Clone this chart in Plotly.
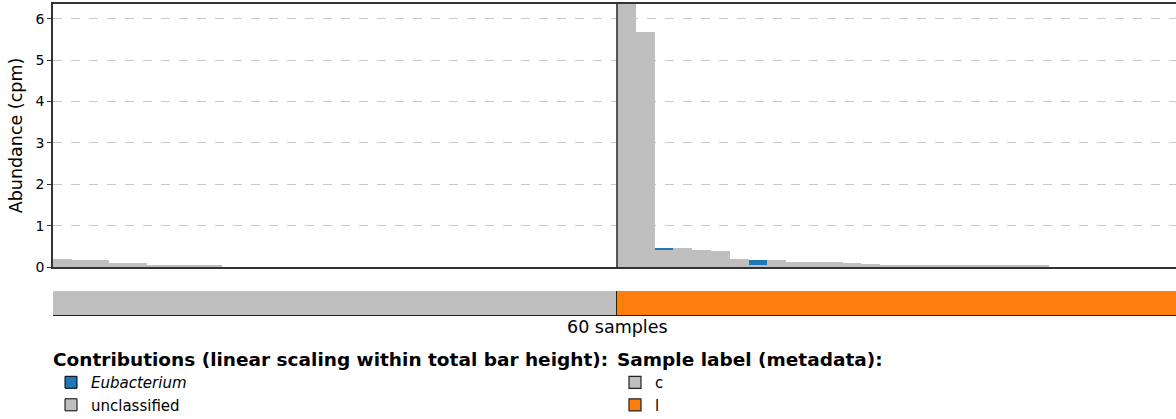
import plotly.graph_objects as go

# ---------------- data ----------------
group_names = ["c", "l"]
group_colors = ["#bfbfbf", "#ff7f0e"]
group_sizes = [30, 30]

unclassified_c = [0.19, 0.16, 0.16, 0.10, 0.10, 0.06, 0.06, 0.035, 0.035] + [0.0] * 21
eubacterium_c = [0.0] * 30

unclassified_l = [7.5, 5.68, 0.43, 0.45, 0.40, 0.38, 0.20, 0.06, 0.17, 0.13,
                  0.12, 0.11, 0.10, 0.08, 0.06, 0.055, 0.055, 0.06, 0.04, 0.04,
                  0.04, 0.04, 0.04] + [0.0] * 7
eubacterium_l = [0.0, 0.0, 0.03, 0.0, 0.0, 0.0, 0.0, 0.12] + [0.0] * 22

unclassified = unclassified_c + unclassified_l
eubacterium = eubacterium_c + eubacterium_l
n_samples = len(unclassified)
sample_idx = list(range(n_samples))

y_ticks = [0, 1, 2, 3, 4, 5, 6]
y_max = 6.36

FONT = "DejaVu Sans"
GRAY = "#bfbfbf"
BLUE = "#1f77b4"

# ---------------- figure ----------------
fig = go.Figure()

fig.add_trace(go.Bar(x=sample_idx, y=unclassified, marker=dict(color=GRAY, line=dict(width=0)),
                     showlegend=False, xaxis="x", yaxis="y", name="unclassified"))
fig.add_trace(go.Bar(x=sample_idx, y=eubacterium, marker=dict(color=BLUE, line=dict(width=0)),
                     showlegend=False, xaxis="x", yaxis="y", name="Eubacterium"))

# legend entries for contributions
fig.add_trace(go.Bar(x=[None], y=[None], name="<i>Eubacterium</i>",
                     marker=dict(color=BLUE, line=dict(color="black", width=1)),
                     legend="legend", xaxis="x", yaxis="y"))
fig.add_trace(go.Bar(x=[None], y=[None], name="unclassified",
                     marker=dict(color=GRAY, line=dict(color="black", width=1)),
                     legend="legend", xaxis="x", yaxis="y"))

# metadata strip: one block per group
start = 0
for name, col, size in zip(group_names, group_colors, group_sizes):
    fig.add_trace(go.Bar(x=[start + size / 2 - 0.5], y=[1], width=[size], name=name,
                         marker=dict(color=col, line=dict(color="#222222", width=1.2)),
                         legend="legend2", xaxis="x2", yaxis="y2"))
    start += size

# group separator line in main plot
boundary = group_sizes[0] - 0.5
fig.add_shape(type="line", xref="x", yref="y", x0=boundary, x1=boundary, y0=0, y1=y_max,
              line=dict(color="#333333", width=1.6), layer="above")

W, H = 1200, 419
ml, mr, mt, mb = 53, 0, 4, 103
plot_w = W - ml - mr
plot_h = H - mt - mb
main_bottom_px = 267
meta_top_px = 291
meta_bottom_px = 316
main_dom0 = (H - mb - main_bottom_px) / plot_h
meta_dom1 = (H - mb - meta_top_px) / plot_h

sample_px = 18.8
x_end = -0.5 + plot_w / sample_px

fig.add_annotation(text=f"{n_samples} samples", xref="x", yref="paper",
                   x=(n_samples - 1) / 2, y=(meta_bottom_px - 327) / plot_h,
                   showarrow=False, yanchor="middle",
                   font=dict(family=FONT, size=17.5, color="black"))

leg_y = (meta_bottom_px - 342) / plot_h
fig.update_layout(
    width=W, height=H,
    margin=dict(l=ml, r=mr, t=mt, b=mb, autoexpand=False),
    paper_bgcolor="white", plot_bgcolor="white",
    barmode="stack", bargap=0,
    font=dict(family=FONT, color="black"),
    xaxis=dict(domain=[0, 1], range=[-0.5, x_end], showticklabels=False, ticks="",
               showgrid=False, zeroline=False, showline=True, linecolor="#333333",
               linewidth=1.6, mirror=True, anchor="y", automargin=False),
    yaxis=dict(domain=[main_dom0, 1], range=[0, y_max], tickvals=y_ticks,
               ticks="outside", ticklen=4, tickwidth=1.2, tickcolor="#333333",
               tickfont=dict(size=14, family=FONT),
               showgrid=True, gridcolor="#c8c8c8", griddash="dash", gridwidth=1,
               zeroline=False, showline=True, linecolor="#333333", linewidth=1.6,
               automargin=False,
               title=dict(text="Abundance (cpm)", font=dict(size=17.5, family=FONT), standoff=8)),
    xaxis2=dict(domain=[0, 1], range=[-0.5, x_end], showticklabels=False, automargin=False,
                ticks="", showgrid=False, zeroline=False, showline=False, anchor="y2"),
    yaxis2=dict(domain=[0, meta_dom1], range=[0, 1], showticklabels=False, ticks="",
                showgrid=False, zeroline=False, showline=False, automargin=False),
    legend=dict(x=-2 / plot_w, y=leg_y, xanchor="left", yanchor="top", traceorder="normal",
                title=dict(text="<b>Contributions (linear scaling within total bar height):</b>",
                           side="top", font=dict(size=18.5, family=FONT)),
                font=dict(size=15, family=FONT), bgcolor="rgba(0,0,0,0)",
                itemclick=False, tracegroupgap=0, borderwidth=0),
    legend2=dict(x=(615 - ml) / plot_w, y=leg_y, traceorder="normal",
                 xanchor="left", yanchor="top",
                 title=dict(text="<b>Sample label (metadata):</b>", side="top",
                            font=dict(size=18.5, family=FONT)),
                 font=dict(size=15, family=FONT), bgcolor="rgba(0,0,0,0)",
                 itemclick=False, tracegroupgap=0, borderwidth=0),
)

fig.write_html("out.html", config={"displayModeBar": False},
               post_script="document.body.style.margin='0';document.body.style.overflow='hidden';")
